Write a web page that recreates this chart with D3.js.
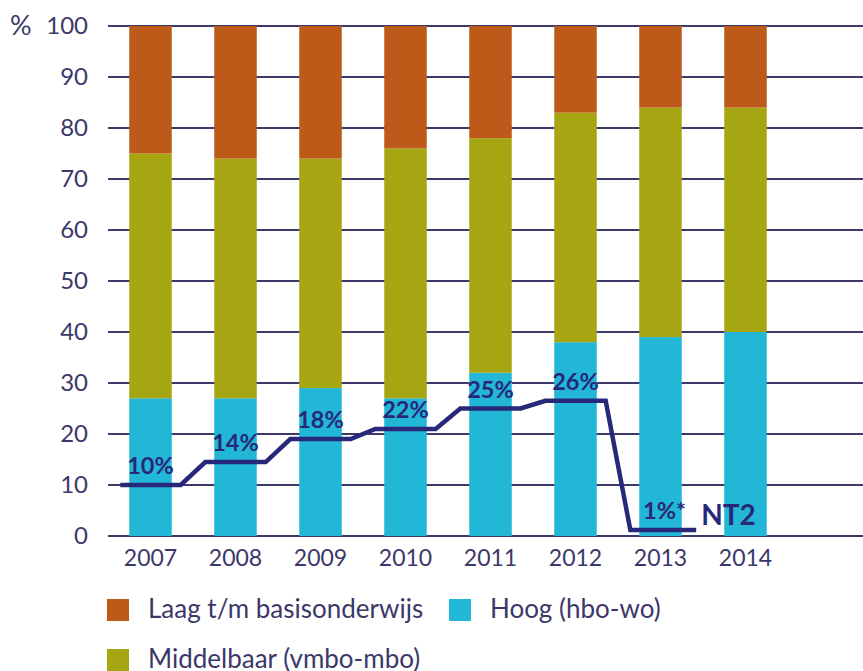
<!DOCTYPE html>
<html>
<head>
<meta charset="utf-8">
<script src="https://cdn.jsdelivr.net/npm/d3@7"></script>
<style>
  body { margin: 0; background: #fff; }
  text { font-family: Lato, "Open Sans", sans-serif; fill: #3b3869; }
</style>
</head>
<body>
<div class="chart"></div>
<script>
// data
const years = ['2007', '2008', '2009', '2010', '2011', '2012', '2013', '2014'];
const slots = years.concat(['']);            // one empty slot on the right
const hoog = [27, 27, 29, 27, 32, 38, 39, 40];
const middelbaar = [48, 47, 45, 49, 46, 45, 45, 44];
const laag = [25, 26, 26, 24, 22, 17, 16, 16];
const yTicks = [0, 10, 20, 30, 40, 50, 60, 70, 80, 90, 100];

// NT2 line
const nt2Years = ['2007', '2008', '2009', '2010', '2011', '2012', '2013'];
const nt2Values = [10, 14.5, 19, 21, 25, 26.5, 1.2];
const nt2Labels = ['10%', '14%', '18%', '22%', '25%', '26%', '1%*'];

const series = [
  { key: 'hoog', name: 'Hoog (hbo-wo)', values: hoog, color: '#22b7d7' },
  { key: 'middelbaar', name: 'Middelbaar (vmbo-mbo)', values: middelbaar, color: '#a6a512' },
  { key: 'laag', name: 'Laag t/m basisonderwijs', values: laag, color: '#bd5a1a' }
];

const svg_width = 863, svg_height = 671;
const margin = { top: 26, right: -10, bottom: 135, left: 108 };
const chart_width = svg_width - margin.left - margin.right;
const chart_height = svg_height - margin.top - margin.bottom;

const svg = d3.select('.chart').append('svg')
  .attr('width', svg_width).attr('height', svg_height);
const g = svg.append('g').attr('transform', `translate(${margin.left},${margin.top})`);

const xScale = d3.scaleBand().domain(slots).range([0, chart_width])
  .paddingInner(0.5).paddingOuter(0.25);
const yScale = d3.scaleLinear().domain([0, 100]).range([chart_height, 0]);

// gridlines
g.append('g').selectAll('line').data(yTicks).join('line')
  .attr('x1', 0).attr('x2', chart_width)
  .attr('y1', d => yScale(d)).attr('y2', d => yScale(d))
  .attr('stroke', '#3d3a6b').attr('stroke-width', 2);

// y tick labels
g.append('g').selectAll('text').data(yTicks).join('text')
  .attr('x', -20).attr('y', d => yScale(d)).attr('dy', '0.35em')
  .attr('text-anchor', 'end').style('font-size', '24px')
  .text(d => d);
g.append('text').attr('x', -98).attr('y', yScale(100)).attr('dy', '0.35em')
  .style('font-size', '27px').text('%');

// stacked bars
const table = years.map((y, i) => ({ year: y, hoog: hoog[i], middelbaar: middelbaar[i], laag: laag[i] }));
const stack = d3.stack().keys(series.map(s => s.key))(table);
g.append('g').selectAll('g').data(stack).join('g')
  .attr('fill', (d, i) => series[i].color)
  .selectAll('rect').data(d => d).join('rect')
  .attr('x', d => xScale(d.data.year))
  .attr('width', xScale.bandwidth())
  .attr('y', d => yScale(d[1]))
  .attr('height', d => yScale(d[0]) - yScale(d[1]));

// x labels
g.append('g').selectAll('text').data(years).join('text')
  .attr('x', d => xScale(d) + xScale.bandwidth() / 2)
  .attr('y', chart_height + 30)
  .attr('text-anchor', 'middle').style('font-size', '23px')
  .text(d => d);

// NT2 step line
const half = xScale.step() * 0.355;
const pts = [];
nt2Years.forEach((y, i) => {
  const c = xScale(y) + xScale.bandwidth() / 2;
  const right = i === nt2Years.length - 1 ? xScale.step() * 0.42 : half;
  pts.push([c - half, yScale(nt2Values[i])]);
  pts.push([c + right, yScale(nt2Values[i])]);
});
g.append('path').attr('d', d3.line()(pts))
  .attr('fill', 'none').attr('stroke', '#27287a').attr('stroke-width', 4.5)
  .attr('stroke-linejoin', 'miter');

g.append('g').selectAll('text').data(nt2Years).join('text')
  .attr('x', (d, i) => xScale(d) + xScale.bandwidth() / 2 + (i === 6 ? 4 : 0))
  .attr('y', (d, i) => yScale(nt2Values[i]) - 11)
  .attr('text-anchor', 'middle')
  .style('font-size', '23.5px').style('font-weight', 'bold').style('fill', '#27287a')
  .text((d, i) => nt2Labels[i]);

const last = pts[pts.length - 1];
g.append('text').attr('x', last[0] + 5).attr('y', last[1] - 5)
  .style('font-size', '28px').style('font-weight', 'bold').style('fill', '#27287a')
  .text('NT2');

// legend
const legendItems = [
  { s: series[2], x: 107, y: 599 },
  { s: series[0], x: 449, y: 599 },
  { s: series[1], x: 107, y: 649 }
];
const legend = svg.append('g').selectAll('g').data(legendItems).join('g')
  .attr('transform', d => `translate(${d.x},${d.y})`);
legend.append('rect').attr('width', 22).attr('height', 22).attr('fill', d => d.s.color);
legend.append('text').attr('x', 41).attr('y', 10).attr('dy', '0.35em')
  .style('font-size', '26px').text(d => d.s.name);
</script>
</body>
</html>
